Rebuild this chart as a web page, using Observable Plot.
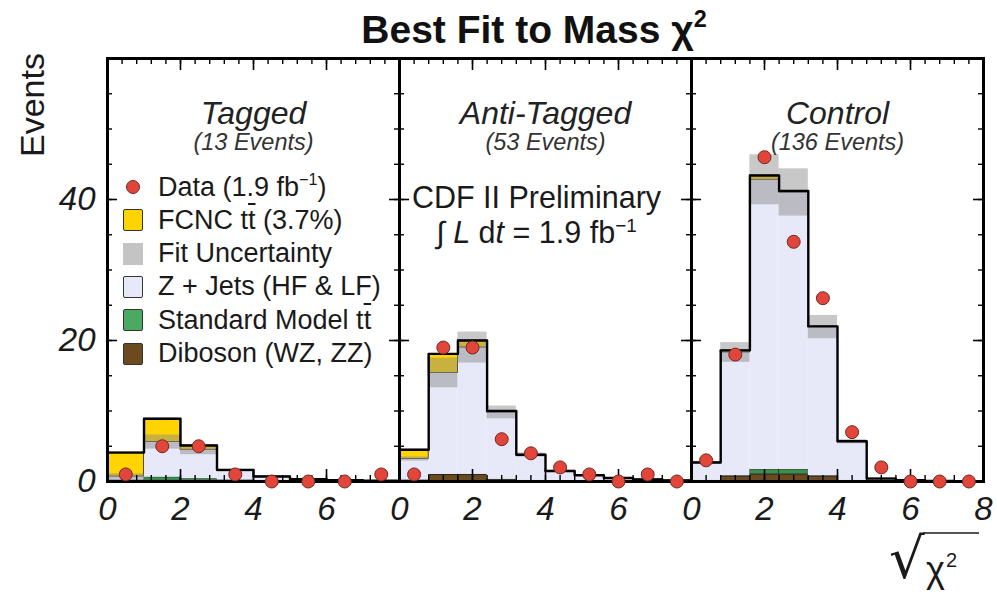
<!DOCTYPE html>
<html><head><meta charset="utf-8">
<script src="https://cdn.jsdelivr.net/npm/d3@7"></script>
<script src="https://cdn.jsdelivr.net/npm/@observablehq/plot@0.6"></script>
<style>
body{margin:0;background:#fff;font-family:"Liberation Sans",Arial,sans-serif;}
#wrap{position:relative;width:997px;height:595px;overflow:hidden;background:#fff;}
#wrap svg{position:absolute;left:0;top:0;}
.abs{position:absolute;white-space:nowrap;color:#1a1a1a;}
.ol{text-decoration:overline;text-decoration-thickness:1.5px;}
sup{font-size:0.6em;vertical-align:0.7em;line-height:0;}
</style></head><body><div id="wrap"></div>
<script>
// ---------- DATA ----------
const panels = ["Tagged", "Anti-Tagged", "Control"];
const panelEvents = ["(13 Events)", "(53 Events)", "(136 Events)"];
const binWidths = [1, 0.8, 0.8];

const dataTagged    = [1, 5, 5, 1, 0, 0, 0, 1];
const dibosonTagged = [0.1, 0.1, 0.1, 0.1, 0.05, 0.05, 0.03, 0.02];
const ttbarTagged   = [0.1, 0.5, 0.3, 0.1, 0.1, 0.05, 0.03, 0.02];
const zjetsTagged   = [0.5, 5.0, 4.1, 1.3, 0.5, 0.2, 0.1, 0.06];
const fcncTagged    = [3.4, 3.3, 0.6, 0.15, 0.05, 0.02, 0.01, 0];
const uncTagged     = [0.4, 1.0, 0.7, 0.2, 0.1, 0.05, 0.03, 0.02];

const dataAnti    = [1, 19, 19, 6, 4, 2, 1, 0, 1, 0];
const dibosonAnti = [0.1, 0.9, 0.9, 0.2, 0.1, 0.05, 0.03, 0.02, 0.01, 0.01];
const ttbarAnti   = [0.1, 0.1, 0.1, 0.1, 0.05, 0.05, 0.02, 0.01, 0.01, 0];
const zjetsAnti   = [3.0, 14.4, 18.0, 9.5, 3.6, 1.35, 0.8, 0.45, 0.27, 0.13];
const fcncAnti    = [1.3, 2.7, 1.0, 0.2, 0.05, 0.05, 0.03, 0.02, 0.01, 0.01];
const uncAnti     = [0.3, 2.1, 2.2, 0.9, 0.3, 0.15, 0.1, 0.05, 0.03, 0.02];

const dataControl    = [3, 18, 46, 34, 26, 7, 2, 0, 0, 0];
const dibosonControl = [0.1, 0.7, 1.0, 1.0, 0.7, 0.1, 0.03, 0.02, 0.01, 0];
const ttbarControl   = [0.05, 0.1, 0.7, 0.7, 0.1, 0.05, 0.02, 0.01, 0, 0];
const zjetsControl   = [2.5, 17.5, 41.1, 39.3, 21.1, 5.5, 0.35, 0.17, 0.08, 0.04];
const fcncControl    = [0.05, 0.3, 0.6, 0.2, 0.1, 0.05, 0.01, 0, 0, 0];
const uncControl     = [0.2, 1.4, 3.55, 3.35, 1.65, 0.3, 0.05, 0.03, 0.02, 0.01];

const components = ["Diboson", "SM ttbar", "Z+Jets", "FCNC"];
const compFill   = ["#6b4a1f", "#3a8f4e", "#e7e8f8", "#ffd400"];
const compStroke = ["#2a2a2a", "#2a2a2a", "none", "#2a2a2a"];

const xMajorTicks = [0, 2, 4, 6, 8];
const xMinorTicks = [0, 0.4, 0.8, 1.2, 1.6, 2, 2.4, 2.8, 3.2, 3.6, 4, 4.4, 4.8, 5.2, 5.6, 6, 6.4, 6.8, 7.2, 7.6, 8];
const yMajorTicks = [0, 20, 40, 60];
const yMinorTicks = [0, 5, 10, 15, 20, 25, 30, 35, 40, 45, 50, 55, 60];
const yTickLabels = [0, 20, 40];
const xTickLabels = [[0, 2, 4, 6], [0, 2, 4, 6], [0, 2, 4, 6, 8]];

const legendLabels = [
  "Data (1.9 fb<sup>\u22121</sup>)",
  "FCNC t<span class='ol'>t</span> (3.7%)",
  "Fit Uncertainty",
  "Z + Jets (HF &amp; LF)",
  "Standard Model t<span class='ol'>t</span>",
  "Diboson (WZ, ZZ)"
];
const legendColors = ["#e2463b", "#ffd400", "#c4c4c4", "#e7e8f8", "#4caa60", "#6b4a1f"];

// ---------- TABLES ----------
const sets = [
  {data: dataTagged, dib: dibosonTagged, tt: ttbarTagged, zj: zjetsTagged, fc: fcncTagged, unc: uncTagged},
  {data: dataAnti, dib: dibosonAnti, tt: ttbarAnti, zj: zjetsAnti, fc: fcncAnti, unc: uncAnti},
  {data: dataControl, dib: dibosonControl, tt: ttbarControl, zj: zjetsControl, fc: fcncControl, unc: uncControl}
];
const bins = [], stackRows = [], outline = [];
sets.forEach((s, p) => {
  const panel = panels[p], w = binWidths[p];
  s.data.forEach((v, i) => {
    const x1 = i * w, x2 = (i + 1) * w;
    const vals = [s.dib[i], s.tt[i], s.zj[i], s.fc[i]];
    let cum = 0;
    vals.forEach((c, k) => { stackRows.push({panel, comp: components[k], x1, x2, y1: cum, y2: cum + c}); cum += c; });
    const sm = vals[0] + vals[1] + vals[2];
    bins.push({panel, x1, x2, xc: (x1 + x2) / 2, data: v, sm, unc: s.unc[i], total: cum});
    outline.push({panel, x: x1, y: cum}, {panel, x: x2, y: cum});
  });
});

// ---------- LAYOUT ----------
const W = 997, H = 595, mL = 107, mR = 14, mT = 58, mB = 114;
const facetW = (W - mL - mR) / 3, frameH = H - mT - mB;
const font = "Liberation Sans, Arial, Helvetica, sans-serif";

const chart = Plot.plot({
  width: W, height: H, marginLeft: mL, marginRight: mR, marginTop: mT, marginBottom: mB,
  style: {fontFamily: font, background: "transparent", overflow: "visible"},
  fx: {domain: panels, axis: null, padding: 0},
  x: {domain: [0, 8], axis: null},
  y: {domain: [0, 60], axis: null},
  marks: [
    ...components.map((c, k) => Plot.rect(stackRows.filter(r => r.comp === c), {
      fx: "panel", x1: "x1", x2: "x2", y1: "y1", y2: "y2",
      fill: compFill[k], stroke: compStroke[k], strokeWidth: 0.8
    })),
    Plot.rect(bins, {fx: "panel", x1: "x1", x2: "x2", y1: d => d.sm - d.unc, y2: d => d.sm + d.unc, fill: "#888", fillOpacity: 0.46}),
    Plot.line(outline, {fx: "panel", x: "x", y: "y", z: "panel", stroke: "#000", strokeWidth: 2.4}),
    // ticks
    Plot.tickX(xMinorTicks, {x: d => d, insetTop: frameH - 6, stroke: "#000", strokeWidth: 1.4}),
    Plot.tickX(xMinorTicks, {x: d => d, insetBottom: frameH - 6, stroke: "#000", strokeWidth: 1.4}),
    Plot.tickX(xMajorTicks, {x: d => d, insetTop: frameH - 12, stroke: "#000", strokeWidth: 1.6}),
    Plot.tickX(xMajorTicks, {x: d => d, insetBottom: frameH - 12, stroke: "#000", strokeWidth: 1.6}),
    Plot.tickY(yMinorTicks, {y: d => d, insetRight: facetW - 5, stroke: "#000", strokeWidth: 1.4}),
    Plot.tickY(yMinorTicks, {y: d => d, insetLeft: facetW - 5, stroke: "#000", strokeWidth: 1.4}),
    Plot.tickY(yMajorTicks, {y: d => d, insetRight: facetW - 10, stroke: "#000", strokeWidth: 1.6}),
    Plot.tickY(yMajorTicks, {y: d => d, insetLeft: facetW - 10, stroke: "#000", strokeWidth: 1.6}),
    Plot.frame({stroke: "#000", strokeWidth: 3}),
    Plot.dot(bins, {fx: "panel", x: "xc", y: "data", r: 6.5, fill: "#e2463b", stroke: "#6e2b26", strokeWidth: 1}),
    // tick labels
    Plot.text(yTickLabels.map(v => ({panel: panels[0], v})), {
      fx: "panel", y: "v", text: d => String(d.v), frameAnchor: "left", textAnchor: "end", dx: -12,
      fontSize: 33, fontStyle: "italic", fill: "#1a1a1a"
    }),
    Plot.text(xTickLabels.flatMap((a, p) => a.map(v => ({panel: panels[p], v}))), {
      fx: "panel", x: "v", text: d => String(d.v), frameAnchor: "bottom", lineAnchor: "top", dy: 15,
      fontSize: 33, fontStyle: "italic", fill: "#1a1a1a"
    }),
    // panel titles
    Plot.text(panels.map(p => ({panel: p})), {fx: "panel", text: "panel", frameAnchor: "top", dy: 43, fontSize: 32, fontStyle: "italic", fill: "#222"}),
    Plot.text(panels.map((p, i) => ({panel: p, t: panelEvents[i]})), {fx: "panel", text: "t", frameAnchor: "top", dy: 75, fontSize: 23.5, fontStyle: "italic", fill: "#333"}),
    Plot.text([{panel: panels[1], t: "CDF II Preliminary"}], {fx: "panel", text: "t", frameAnchor: "top", dy: 128, dx: -9, fontSize: 30.5, fill: "#1a1a1a"}),
    Plot.text([{panel: panels[1], t: "\u222B L dt = 1.9 fb-1"}], {fx: "panel", text: "t", frameAnchor: "top", dy: 163, dx: -9, fontSize: 30.5, fill: "#1a1a1a"})
  ]
});
const wrap = document.getElementById("wrap");
wrap.appendChild(chart);

// rich text for the luminosity line
chart.querySelectorAll("text").forEach(el => {
  if (el.textContent.startsWith("\u222B")) {
    el.textContent = "";
    const parts = [["\u222B ", null], ["L", "italic"], [" d", null], ["t", "italic"], [" = 1.9 fb", null]];
    const sel = d3.select(el);
    parts.forEach(([t, st]) => { const ts = sel.append("tspan").text(t); if (st) ts.attr("font-style", st); });
    sel.append("tspan").text("\u22121").attr("font-size", "0.62em").attr("dy", "-0.6em");
  }
});

// title
const title = document.createElement("div");
title.className = "abs";
title.style.cssText = "left:534px;top:10px;transform:translateX(-50%);font-size:39px;line-height:39px;font-weight:bold;color:#111";
title.innerHTML = "Best Fit to Mass \u03C7<sup>2</sup>";
wrap.appendChild(title);

// y label
const ylab = document.createElement("div");
ylab.className = "abs";
ylab.style.cssText = "left:32px;top:105px;transform:translate(-50%,-50%) rotate(-90deg);font-size:34px;line-height:34px;color:#1a1a1a";
ylab.textContent = "Events";
wrap.appendChild(ylab);

// legend
legendLabels.forEach((lab, i) => {
  const row = document.createElement("div");
  row.className = "abs";
  const cy = 187 + i * 33.3;
  row.style.cssText = `left:121px;top:${cy - 17}px;height:34px;display:flex;align-items:center;font-size:27px;color:#1a1a1a`;
  const mk = document.createElement("div");
  mk.style.cssText = "width:24px;height:34px;display:flex;align-items:center;justify-content:center;margin-right:13px";
  const sw = document.createElement("div");
  if (i === 0) sw.style.cssText = `width:12px;height:12px;border-radius:50%;background:${legendColors[i]};border:1px solid #6e2b26`;
  else if (i === 2) sw.style.cssText = `width:20px;height:22px;background:${legendColors[i]}`;
  else sw.style.cssText = `width:18px;height:20px;background:${legendColors[i]};border:1.5px solid #333;border-radius:2px`;
  mk.appendChild(sw);
  row.appendChild(mk);
  const tx = document.createElement("span");
  tx.innerHTML = lab;
  row.appendChild(tx);
  wrap.appendChild(row);
});

// x label  sqrt(chi^2)
const xl = d3.select(wrap).append("svg").attr("width", W).attr("height", H).style("pointer-events", "none");
xl.append("text").attr("x", 889).attr("y", 578).attr("font-family", "DejaVu Sans, sans-serif").attr("font-size", 56).attr("fill", "#1a1a1a").text("\u221A");
const xt = xl.append("text").attr("x", 926).attr("y", 582).attr("font-family", font).attr("font-size", 36).attr("fill", "#1a1a1a");
xt.append("tspan").text("\u03C7");
xt.append("tspan").text("2").attr("font-size", 20).attr("dy", -15).attr("dx", 1);
// vinculum starts at the glyph's top right
const g = xl.select("text").node().getBBox();
xl.append("line").attr("x1", g.x + g.width - 2).attr("x2", 979).attr("y1", 533).attr("y2", 533).attr("stroke", "#1a1a1a").attr("stroke-width", 1.6);
</script></body></html>
